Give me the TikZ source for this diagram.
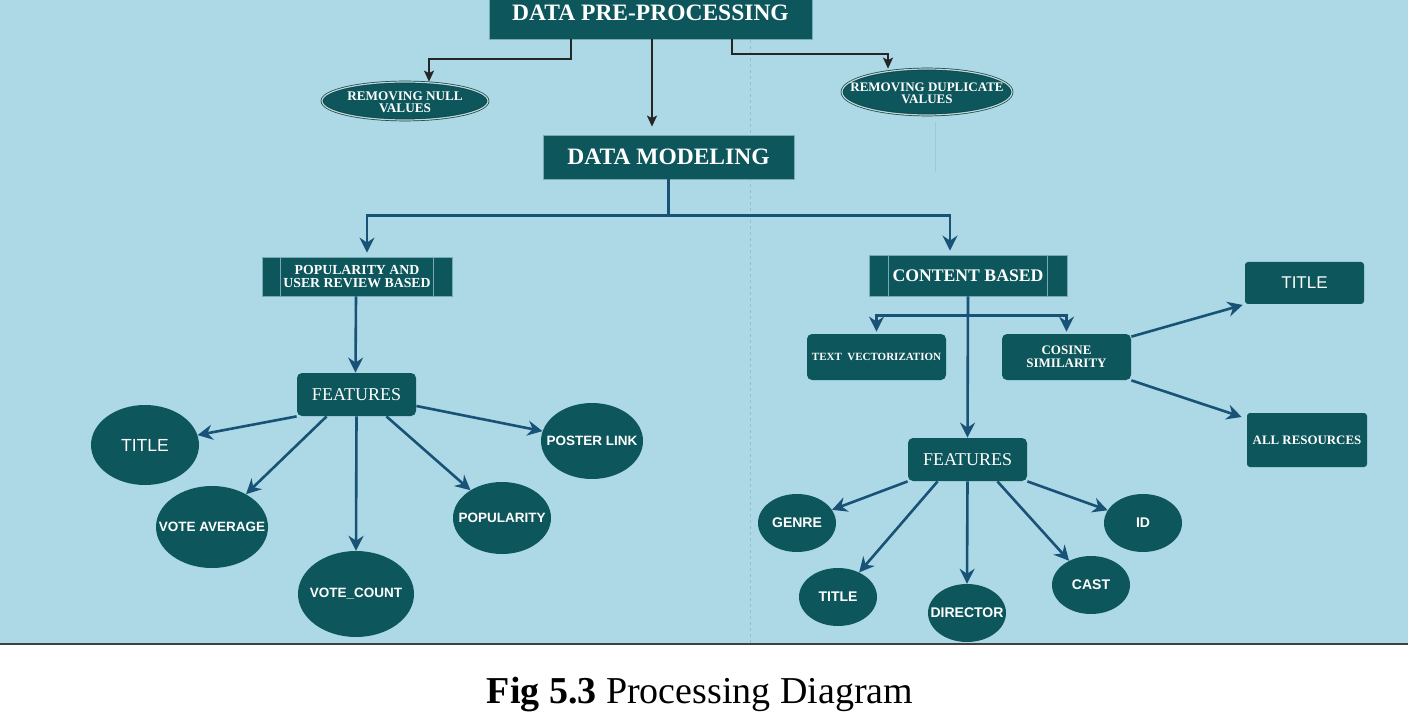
\documentclass[tikz,border=0pt]{standalone}
\usepackage{fontspec}
\setmainfont{Liberation Serif}
\newfontfamily\arialf{Liberation Sans}
\usetikzlibrary{arrows.meta,shapes.geometric}
\definecolor{bgblue}{RGB}{173,216,230}
\definecolor{tealn}{RGB}{13,86,92}
\definecolor{arrblue}{RGB}{24,82,118}
\definecolor{edgec}{RGB}{120,170,180}
\newcommand{\zw}[1]{\makebox[0pt][c]{#1}}
\newcommand{\twol}[2]{\makebox[0pt][c]{\raisebox{-6pt}[0pt][0pt]{\begin{tabular}{@{}c@{}}#1\\#2\end{tabular}}}}
\tikzset{
  tbox/.style={rectangle, fill=tealn, draw=edgec, line width=0.8pt, text=white, inner sep=0pt, align=center},
  rbox/.style={tbox, rounded corners=5pt, draw=none},
  dell/.style={ellipse, fill=tealn, draw=tealn!80!black, double=white!75!tealn, double distance=1.2pt, line width=0.7pt, text=white, inner sep=0pt},
  cell/.style={ellipse, fill=tealn, draw=none, text=white, inner sep=0pt},
  blk/.style={draw=black!85, line width=1.8pt, -{Stealth[length=11pt,width=10pt,inset=2.5pt]}},
  blu/.style={draw=arrblue, line width=2.6pt, -{Stealth[length=15pt,width=15pt,inset=5pt]}},
  bline/.style={draw=arrblue, line width=2.6pt},
  sfb/.style={font=\arialf\bfseries\fontsize{13.5}{15}\selectfont},
  sfbr/.style={font=\arialf\bfseries\fontsize{14}{15}\selectfont},
  sfr/.style={font=\arialf\fontsize{17.5}{19}\selectfont},
}
\begin{document}
\begin{tikzpicture}[x=1pt,y=-1pt]
\useasboundingbox (0,0) rectangle (1408,727);
\fill[white] (0,0) rectangle (1408,727);
\fill[bgblue] (0,0) rectangle (1408,644);
\draw[dash pattern=on 3pt off 3pt, draw=black!12!bgblue, line width=1pt] (750,40) -- (750,643);
\draw[draw=black!8!bgblue, line width=0.8pt] (935,122) -- (935,172);
\draw[draw=black!75, line width=1.8pt] (0,644) -- (1408,644);

% top
\node[tbox, minimum width=323, minimum height=52, font=\bfseries\fontsize{23.5}{26}\selectfont] (pre) at (650.5,13) {DATA PRE-PROCESSING};
\node[dell, minimum width=166, minimum height=38, font=\bfseries\fontsize{13.2}{12.5}\selectfont] (null) at (405,101) {\twol{REMOVING NULL}{VALUES}};
\node[dell, minimum width=170, minimum height=46, font=\bfseries\fontsize{13}{12.5}\selectfont] (dup) at (927,92) {\twol{REMOVING DUPLICATE}{VALUES}};
\node[tbox, minimum width=251, minimum height=44, font=\bfseries\fontsize{23.5}{26}\selectfont] (model) at (668.5,157) {DATA MODELING};

% second level
\node[tbox, minimum width=190, minimum height=39, font=\bfseries\fontsize{13.8}{13}\selectfont] (pop) at (357,276.5) {POPULARITY AND\\USER REVIEW BASED};
\draw[edgec, line width=0.8pt] ([xshift=19pt]pop.north west) -- ([xshift=19pt]pop.south west);
\draw[edgec, line width=0.8pt] ([xshift=-19pt]pop.north east) -- ([xshift=-19pt]pop.south east);
\node[tbox, minimum width=198, minimum height=41, font=\bfseries\fontsize{17.7}{19}\selectfont] (cb) at (968,275.5) {CONTENT BASED};
\draw[edgec, line width=0.8pt] ([xshift=20pt]cb.north west) -- ([xshift=20pt]cb.south west);
\draw[edgec, line width=0.8pt] ([xshift=-20pt]cb.north east) -- ([xshift=-20pt]cb.south east);

% left features
\node[rbox, minimum width=119, minimum height=43, font=\fontsize{18}{20}\selectfont] (featL) at (356.5,394.5) {FEATURES};
\node[cell, sfr, minimum width=108, minimum height=80] (titleL) at (145,445) {\zw{TITLE}};
\node[cell, sfb, minimum width=112, minimum height=82] (voteavg) at (212,527) {\zw{VOTE AVERAGE}};
\node[cell, sfb, minimum width=116, minimum height=86] (votecount) at (356,594) {\zw{VOTE\_COUNT}};
\node[cell, sfb, minimum width=98, minimum height=72] (popul) at (502,518) {\zw{POPULARITY}};
\node[cell, sfb, minimum width=102, minimum height=76] (poster) at (592,441) {\zw{POSTER LINK}};

% right side
\node[rbox, minimum width=139, minimum height=46, font=\bfseries\fontsize{11}{12}\selectfont] (textvec) at (876.5,357) {TEXT\ \ VECTORIZATION};
\node[rbox, minimum width=129, minimum height=46, font=\bfseries\fontsize{13}{12.5}\selectfont] (cosine) at (1066.5,357) {COSINE\\SIMILARITY};
\node[rbox, rounded corners=3pt, minimum width=119, minimum height=42, font=\arialf\fontsize{17}{19}\selectfont] (titleR) at (1304.5,283) {TITLE};
\node[rbox, rounded corners=3pt, minimum width=120, minimum height=54, font=\bfseries\fontsize{12.9}{14}\selectfont] (allres) at (1307,440) {ALL RESOURCES};
\node[rbox, minimum width=119, minimum height=43, font=\fontsize{18}{20}\selectfont] (featR) at (967.5,459.5) {FEATURES};
\node[cell, sfbr, minimum width=78, minimum height=58] (genre) at (797,523) {\zw{GENRE}};
\node[cell, sfbr, minimum width=78, minimum height=58] (titleB) at (838,597) {\zw{TITLE}};
\node[cell, sfbr, minimum width=78, minimum height=58] (director) at (967,613) {\zw{DIRECTOR}};
\node[cell, sfbr, minimum width=78, minimum height=58] (cast) at (1091,585) {\zw{CAST}};
\node[cell, sfbr, minimum width=78, minimum height=58] (idn) at (1143,523) {\zw{ID}};

% black connectors
\draw[blk] ([xshift=-79.5pt]pre.south) -- ++(0,20) -| ([xshift=24pt]null.north);
\draw[blk, shorten >=8pt] ([xshift=1.5pt]pre.south) -- ([xshift=1.5pt]pre.south |- model.north);
\draw[blk] ([xshift=81.5pt]pre.south) -- ++(0,15) -| ([xshift=-39pt]dup.north);

% blue connectors
\coordinate (mbr) at ([yshift=-36pt]model.south);
\draw[bline] (model.south) -- (mbr);
\draw[blu, shorten >=4pt] (mbr) -| ([xshift=10pt]pop.north);
\draw[blu, shorten >=4pt] (mbr) -| ([xshift=-18pt]cb.north);
\draw[blu] ([xshift=-1pt]pop.south) -- ([xshift=-1pt]featL.north);
\draw[blu] (cb.south) -- (featR.north);
\coordinate (cbr) at ([yshift=-19pt]cb.south);
\draw[blu, shorten >=2pt] (cbr) -| (textvec.north);
\draw[blu, shorten >=2pt] (cbr) -| (cosine.north);
\draw[blu, shorten >=2pt] ([yshift=-3pt]cosine.north east) -- (titleR.south west);
\draw[blu, shorten >=2pt] (cosine.south east) -- ([yshift=-5pt,xshift=-3pt]allres.north west);

\draw[blu] (featL.south west) -- (titleL);
\draw[blu] ([xshift=30pt]featL.south west) -- (voteavg);
\draw[blu] (featL.south) -- (votecount.north);
\draw[blu] ([xshift=-30pt]featL.south east) -- (popul);
\draw[blu] ([yshift=-11.5pt]featL.east) -- (poster);

\draw[blu] (featR.south west) -- (genre);
\draw[blu] ([xshift=30pt]featR.south west) -- (titleB);
\draw[blu] (featR.south) -- (director.north);
\draw[blu] ([xshift=-30pt]featR.south east) -- (cast);
\draw[blu] (featR.south east) -- (idn);

% caption
\node[font=\fontsize{38}{44}\selectfont, inner sep=0pt] (cap) at (700,695) {\textbf{Fig 5.3} Processing Diagram};
\end{tikzpicture}
\end{document}
